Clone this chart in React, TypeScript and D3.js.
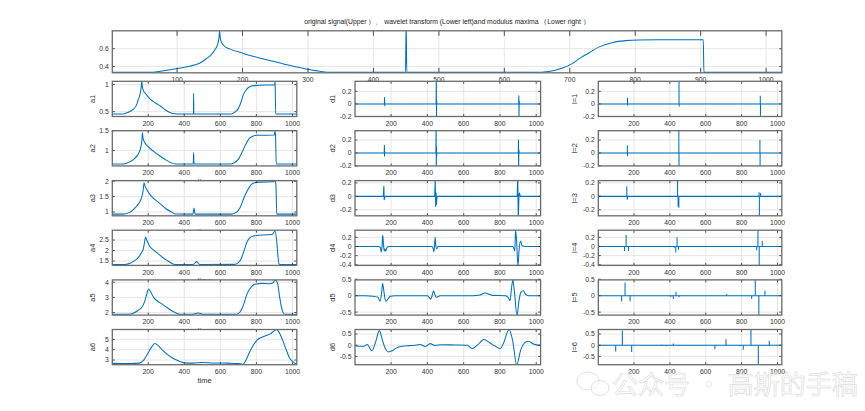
import React from "react";
import * as d3 from "d3";

type Pt = [number, number];

// ---------------- data ----------------
const xDomain: [number, number] = [1, 1024];
const topXTicks = [100, 200, 300, 400, 500, 600, 700, 800, 900, 1000];
const subXTicks = [200, 400, 600, 800, 1000];

const signal: Pt[] = [[1,0.335],[60,0.335],[90,0.365],[117,0.4],[135,0.44],[145,0.49],[153,0.54],[158,0.59],[162,0.65],[164,0.72],[165,0.8],[166,0.72],[168,0.67],[172,0.63],[181,0.595],[200,0.55],[229,0.49],[260,0.435],[299,0.37],[320,0.345],[338,0.335],[449,0.335],[450,0.9],[451,0.335],[645,0.335],[668,0.345],[688,0.38],[703,0.43],[717,0.5],[731,0.56],[745,0.62],[766,0.67],[785,0.69],[805,0.698],[850,0.7],[904,0.7],[905,0.335],[1024,0.335]];

const a1: Pt[] = [[1,0.458],[62,0.458],[90,0.49],[117,0.54],[135,0.62],[145,0.72],[153,0.8],[158,0.88],[162,0.97],[164,1.06],[167,0.97],[172,0.9],[191,0.81],[214,0.72],[240,0.66],[269,0.6],[300,0.52],[323,0.48],[345,0.46],[360,0.458],[451,0.458],[452,0.84],[453,0.458],[660,0.458],[680,0.49],[700,0.56],[713,0.66],[726,0.8],[742,0.9],[763,0.96],[785,0.98],[850,0.99],[902,0.99],[903,1.06],[904,0.99],[907,0.458],[1024,0.458]];
const a2: Pt[] = [[1,0.665],[62,0.665],[95,0.71],[120,0.78],[140,0.88],[152,0.98],[160,1.1],[165,1.25],[168,1.45],[171,1.32],[180,1.21],[200,1.1],[230,0.98],[270,0.85],[300,0.76],[330,0.69],[350,0.665],[450,0.665],[452,0.95],[454,0.665],[660,0.665],[680,0.7],[700,0.78],[720,0.95],[740,1.15],[760,1.3],[780,1.36],[800,1.385],[900,1.39],[903,1.5],[906,1.39],[910,0.665],[1024,0.665]];
const a3: Pt[] = [[1,0.935],[62,0.935],[100,1.0],[130,1.15],[150,1.3],[165,1.5],[172,1.7],[177,1.95],[182,1.85],[195,1.7],[220,1.5],[260,1.3],[300,1.1],[330,1.0],[350,0.94],[448,0.935],[454,1.13],[460,0.935],[660,0.935],[690,1.0],[710,1.15],[730,1.45],[750,1.7],[770,1.88],[790,1.95],[820,1.97],[895,1.98],[902,2.02],[908,1.9],[913,0.935],[1024,0.935]];
const a4: Pt[] = [[1,1.335],[70,1.335],[100,1.39],[130,1.55],[150,1.72],[164,1.92],[172,2.05],[180,2.4],[185,2.64],[192,2.5],[205,2.25],[230,2.02],[260,1.82],[283,1.65],[310,1.5],[338,1.36],[360,1.335],[450,1.335],[468,1.47],[485,1.335],[680,1.34],[700,1.42],[715,1.6],[730,1.95],[745,2.35],[763,2.6],[780,2.68],[800,2.72],[860,2.75],[890,2.78],[903,2.93],[912,2.5],[918,1.9],[925,1.36],[935,1.335],[1024,1.335]];
const a5: Pt[] = [[1,1.88],[95,1.88],[120,1.97],[145,2.15],[164,2.33],[180,2.7],[192,3.2],[202,3.55],[212,3.4],[230,3.0],[265,2.65],[302,2.35],[330,2.12],[357,1.95],[380,1.89],[440,1.88],[477,1.97],[510,1.88],[690,1.89],[710,2.05],[730,2.55],[744,3.1],[760,3.5],[781,3.8],[800,3.88],[830,3.92],[870,3.9],[890,3.95],[906,4.15],[918,3.9],[928,3.1],[940,2.3],[950,1.95],[960,1.88],[1024,1.88]];
const a6: Pt[] = [[1,2.68],[100,2.67],[150,2.7],[175,3.0],[200,3.7],[220,4.3],[237,4.6],[255,4.4],[280,3.95],[302,3.6],[340,3.15],[375,2.87],[412,2.7],[450,2.7],[500,2.76],[560,2.72],[650,2.7],[700,2.66],[726,2.6],[745,3.1],[763,3.8],[785,4.5],[805,4.95],[830,5.2],[860,5.4],[880,5.55],[897,5.8],[910,5.95],[925,5.7],[947,4.85],[965,4.0],[984,3.2],[1005,2.8],[1017,2.65],[1024,2.62]];

const d1: Pt[] = [[1,0],[163,0],[164,0.1],[165,-0.03],[166,0],[448,0],[449,0.5],[450,-0.25],[451,0.05],[452,0],[903,0],[904,0.13],[905,-0.19],[906,0.05],[907,0],[1024,0]];
const d2: Pt[] = [[1,0],[162,0],[163,0.12],[164,-0.05],[165,0.02],[166,0],[447,0],[448,0.5],[449,-0.25],[450,0.1],[451,-0.05],[452,0],[901,0],[902,0.2],[903,-0.25],[904,0.05],[905,0.02],[906,0],[1024,0]];
const d3s: Pt[] = [[1,0],[157,0],[160,0.15],[162,-0.05],[164,-0.03],[166,0],[440,0],[443,0.25],[446,-0.15],[448,0.05],[450,-0.12],[453,0],[895,0],[898,0.3],[901,-0.35],[905,0.03],[908,0.05],[912,0],[1024,0]];
const d4: Pt[] = [[1,0],[130,0],[140,-0.02],[146,-0.12],[150,0.0],[154,0.25],[158,0.05],[162,-0.1],[166,-0.05],[170,-0.1],[178,-0.02],[190,0],[425,0],[432,-0.05],[436,-0.12],[440,0.05],[443,0.2],[447,0],[452,-0.05],[460,0],[870,0],[878,-0.05],[882,-0.1],[886,0.36],[892,0.1],[899,-0.42],[906,-0.05],[914,0.12],[922,0.02],[935,0],[1024,0]];
const d5: Pt[] = [[1,0],[60,0],[100,-0.02],[128,-0.05],[139,-0.17],[147,0.05],[153,0.38],[161,0.1],[170,-0.17],[180,-0.12],[195,-0.02],[220,0],[400,0],[419,-0.1],[427,0.02],[434,0.15],[442,0.02],[450,-0.05],[470,0],[650,0],[690,0.02],[718,0.08],[760,0.01],[830,0],[845,-0.05],[856,-0.15],[863,0.2],[871,0.48],[880,0.1],[894,-0.6],[905,-0.15],[915,0.1],[928,0.15],[945,0.02],[960,0],[1024,0]];
const d6: Pt[] = [[1,-0.02],[30,-0.05],[50,-0.05],[68,0.03],[94,-0.25],[115,0.15],[135,0.65],[153,0.2],[168,-0.15],[185,-0.3],[205,-0.25],[230,-0.12],[260,-0.05],[300,-0.02],[330,0.0],[360,0.03],[388,-0.06],[415,0.07],[440,-0.01],[480,0.02],[550,0.01],[620,0],[647,-0.15],[675,0],[712,0.25],[745,0.1],[775,-0.05],[802,-0.15],[820,0.1],[850,0.7],[870,0.2],[892,-0.87],[915,-0.2],[935,0.1],[955,0.18],[985,0.05],[1024,-0.02]];

const l1: Pt[] = [[164,0.1],[165,-0.03],[451,0.5],[452,-0.04],[904,0.13],[905,-0.19]];
const l2: Pt[] = [[163,0.12],[164,-0.05],[450,0.5],[451,-0.22],[902,0.2],[903,-0.22]];
const l3: Pt[] = [[160,0.15],[162,-0.05],[164,-0.04],[443,0.25],[446,-0.15],[448,-0.08],[450,-0.17],[897,0.06],[899,-0.35],[906,0.05]];
const l4: Pt[] = [[147,-0.1],[156,0.25],[169,-0.1],[425,-0.03],[433,-0.13],[440,0.2],[448,-0.07],[884,-0.08],[891,0.36],[898,-0.42],[915,0.12]];
const l5: Pt[] = [[131,-0.17],[150,0.4],[178,-0.17],[405,-0.03],[419,-0.1],[434,0.12],[451,-0.05],[717,0.05],[856,-0.1],[876,0.48],[896,-0.59],[930,0.15]];
const l6: Pt[] = [[29,-0.02],[98,-0.28],[135,0.65],[187,-0.3],[261,0.01],[289,-0.01],[354,0.02],[382,-0.05],[419,0.08],[452,-0.02],[651,-0.18],[713,0.27],[791,-0.05],[809,-0.2],[852,0.7],[893,-0.87],[954,0.2]];

const topYDomain: [number, number] = [0.33, 0.8];
const topYTicks = [0.4, 0.6];
const aSeries = [a1, a2, a3, a4, a5, a6];
const dSeries = [d1, d2, d3s, d4, d5, d6];
const lSeries = [l1, l2, l3, l4, l5, l6];
const aLabels = ["a1", "a2", "a3", "a4", "a5", "a6"];
const dLabels = ["d1", "d2", "d3", "d4", "d5", "d6"];
const lLabels = ["l=1", "l=2", "l=3", "l=4", "l=5", "l=6"];
const aDomains: [number, number][] = [[0.41,1.06],[0.615,1.5],[0.88,2.02],[1.29,2.97],[1.83,4.15],[2.55,5.95]];
const aTicks = [[0.5,1],[1,1.5],[1,1.5,2],[1.5,2,2.5],[2,3,4],[3,4,5]];
const dDomains: [number, number][] = [[-0.2,0.36],[-0.2,0.345],[-0.29,0.235],[-0.415,0.357],[-0.59,0.48],[-0.87,0.7]];
const dTicks = [[-0.2,0,0.2],[-0.2,0,0.2],[-0.2,0,0.2],[-0.4,-0.2,0,0.2],[-0.5,0,0.5],[-0.5,0,0.5]];
const titleText = "original signal(Upper ）、 wavelet transform (Lower left)and modulus maxima （Lower right ）";
const watermark = "公众号 · 高斯的手稿";

// ---------------- layout ----------------
const W = 865, H = 411;
const FONT = "'Liberation Sans', Arial, Helvetica, sans-serif";
const LINE = "#0072BD";
const TOP = { x0: 112.3, x1: 781.8, y0: 30.8, y1: 72.8 };
const COLS: [number, number][] = [[112.3, 296.8], [355, 540.6], [598.3, 781.8]];
const ROW_TOP = [81.3, 130.7, 180.6, 230.2, 279.9, 329.5];
const ROW_H = 35.2;

type Scales = { xs: d3.ScaleLinear<number, number>; ys: d3.ScaleLinear<number, number> };

interface PanelProps {
  id: string; x0: number; x1: number; y0: number; y1: number;
  yDomain: [number, number]; xTicks: number[]; yTicks: number[];
  tickLen: number; ylabel?: string; xlabel?: string; ylabelOffset?: number;
  draw: (s: Scales) => React.ReactNode;
}

function Panel(p: PanelProps) {
  const xs = d3.scaleLinear().domain(xDomain).range([p.x0, p.x1]);
  const ys = d3.scaleLinear().domain(p.yDomain).range([p.y1, p.y0]);
  const w = p.x1 - p.x0, h = p.y1 - p.y0;
  return (
    <g>
      <rect x={p.x0} y={p.y0} width={w} height={h} fill="#fff" />
      <clipPath id={p.id}><rect x={p.x0} y={p.y0} width={w} height={h} /></clipPath>
      {p.xTicks.map((t) => (
        <line key={"gx" + t} x1={xs(t)} x2={xs(t)} y1={p.y0} y2={p.y1} stroke="#e3e3e3" strokeWidth={0.9} />
      ))}
      {p.yTicks.map((t) => (
        <line key={"gy" + t} x1={p.x0} x2={p.x1} y1={ys(t)} y2={ys(t)} stroke="#e3e3e3" strokeWidth={0.9} />
      ))}
      <g clipPath={`url(#${p.id})`}>{p.draw({ xs, ys })}</g>
      {p.xTicks.map((t) => (
        <g key={"tx" + t} stroke="#262626" strokeWidth={0.8}>
          <line x1={xs(t)} x2={xs(t)} y1={p.y1} y2={p.y1 - p.tickLen} />
          <line x1={xs(t)} x2={xs(t)} y1={p.y0} y2={p.y0 + p.tickLen} />
        </g>
      ))}
      {p.yTicks.map((t) => (
        <g key={"ty" + t} stroke="#262626" strokeWidth={0.8}>
          <line x1={p.x0} x2={p.x0 + 2.5} y1={ys(t)} y2={ys(t)} />
          <line x1={p.x1} x2={p.x1 - 2.5} y1={ys(t)} y2={ys(t)} />
        </g>
      ))}
      <rect x={p.x0} y={p.y0} width={w} height={h} fill="none" stroke="#6b6b6b" strokeWidth={1.3} />
      {p.xTicks.map((t) => (
        <text key={"lx" + t} x={xs(t)} y={p.y1 + 9.3} textAnchor="middle" fontSize={6.8} fill="#333" fontFamily={FONT}>{String(t)}</text>
      ))}
      {p.yTicks.map((t) => (
        <text key={"ly" + t} x={p.x0 - 3.5} y={ys(t) + 2.4} textAnchor="end" fontSize={6.8} fill="#333" fontFamily={FONT}>{String(t)}</text>
      ))}
      {p.ylabel && (
        <text transform={`translate(${p.x0 - (p.ylabelOffset ?? 17)},${(p.y0 + p.y1) / 2}) rotate(-90)`} textAnchor="middle" fontSize={7.5} fill="#333" fontFamily={FONT}>{p.ylabel}</text>
      )}
      {p.xlabel && (
        <text x={(p.x0 + p.x1) / 2} y={p.y1 + 18} textAnchor="middle" fontSize={7.5} fill="#333" fontFamily={FONT}>{p.xlabel}</text>
      )}
    </g>
  );
}

function curvePath(data: Pt[], s: Scales, curve: d3.CurveFactory) {
  const gen = d3.line<Pt>().x((d) => s.xs(d[0])).y((d) => s.ys(d[1])).curve(curve);
  return <path d={gen(data) || ""} fill="none" stroke={LINE} strokeWidth={1.05} strokeLinejoin="round" />;
}

function stems(data: Pt[], s: Scales) {
  const z = s.ys(0);
  const d = data.map(([x, v]) => `M${s.xs(x)},${z}V${s.ys(v)}`).join("");
  return (
    <g>
      <line x1={s.xs(xDomain[0])} x2={s.xs(xDomain[1])} y1={z} y2={z} stroke={LINE} strokeWidth={1.05} />
      <path d={d} stroke={LINE} strokeWidth={1.05} fill="none" />
    </g>
  );
}

export default function App() {
  const rows = ROW_TOP.map((top, i) => {
    const y0 = top, y1 = top + ROW_H;
    return (
      <g key={i}>
        <Panel id={`a${i}`} x0={COLS[0][0]} x1={COLS[0][1]} y0={y0} y1={y1} yDomain={aDomains[i]}
          xTicks={subXTicks} yTicks={aTicks[i]} tickLen={2.5} ylabel={aLabels[i]} xlabel="time" ylabelOffset={17}
          draw={(s) => curvePath(aSeries[i], s, d3.curveMonotoneX)} />
        <Panel id={`d${i}`} x0={COLS[1][0]} x1={COLS[1][1]} y0={y0} y1={y1} yDomain={dDomains[i]}
          xTicks={subXTicks} yTicks={dTicks[i]} tickLen={2.5} ylabel={dLabels[i]} ylabelOffset={20}
          draw={(s) => curvePath(dSeries[i], s, i < 3 ? d3.curveLinear : d3.curveMonotoneX)} />
        <Panel id={`l${i}`} x0={COLS[2][0]} x1={COLS[2][1]} y0={y0} y1={y1} yDomain={dDomains[i]}
          xTicks={subXTicks} yTicks={dTicks[i]} tickLen={2.5} ylabel={lLabels[i]} ylabelOffset={21}
          draw={(s) => stems(lSeries[i], s)} />
      </g>
    );
  });
  return (
    <svg width={W} height={H} style={{ position: "absolute", left: 0, top: 0, background: "#fff" }}>
      <rect width={W} height={H} fill="#fff" />
      <text x={(TOP.x0 + TOP.x1) / 2} y={24} textAnchor="middle" fontSize={6.8} fill="#222" fontFamily={FONT}>{titleText}</text>
      <Panel id="top" x0={TOP.x0} x1={TOP.x1} y0={TOP.y0} y1={TOP.y1} yDomain={topYDomain}
        xTicks={topXTicks} yTicks={topYTicks} tickLen={5}
        draw={(s) => curvePath(signal, s, d3.curveMonotoneX)} />
      {rows}
      <g opacity={0.75}>
        <ellipse cx={588} cy={381} rx={11} ry={9} fill="#fff" fillOpacity={0.6} stroke="#d6d6d6" strokeWidth={1} />
        <ellipse cx={600} cy={388} rx={9} ry={7.5} fill="#fff" fillOpacity={0.6} stroke="#d6d6d6" strokeWidth={1} />
        <text x={612} y={394} fontSize={26} fontFamily="'Noto Sans CJK SC', sans-serif" fill="#fff" fillOpacity={0.7} stroke="#d4d4d4" strokeWidth={0.7}>{watermark}</text>
      </g>
    </svg>
  );
}
